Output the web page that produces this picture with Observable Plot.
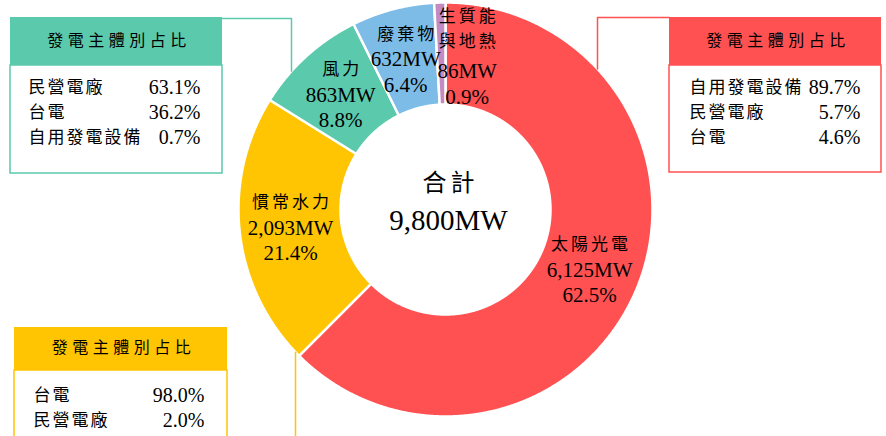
<!DOCTYPE html>
<html><head><meta charset="utf-8">
<script src="https://cdn.jsdelivr.net/npm/d3@7"></script>
<script src="https://cdn.jsdelivr.net/npm/@observablehq/plot@0.6"></script>
<style>
html,body{margin:0;padding:0;background:#fff;overflow:hidden;}
g[aria-description="hdr"] text{letter-spacing:4.5px}
g[aria-description="rowlabel"] text{letter-spacing:2px}
g[aria-description="slicename"] text{letter-spacing:3px}
g[aria-description="total"] text{letter-spacing:4px}
</style></head><body><div id="chart"></div><script>
// ---- data ----
const categories = ["太陽光電","慣常水力","風力","廢棄物","生質能與地熱"];
const categoryLines = [["太陽光電"],["慣常水力"],["風力"],["廢棄物"],["生質能","與地熱"]];
const capacityMW = [6125,2093,863,632,86];
const capacityLabels = ["6,125MW","2,093MW","863MW","632MW","86MW"];
const sharePct = [62.5,21.4,8.8,6.4,0.9];
const totalLines = ["合計","9,800MW"];
const boxTitle = "發電主體別占比";
const solarOwners = ["自用發電設備","民營電廠","台電"];
const solarOwnerPct = [89.7,5.7,4.6];
const windOwners = ["民營電廠","台電","自用發電設備"];
const windOwnerPct = [63.1,36.2,0.7];
const hydroOwners = ["台電","民營電廠"];
const hydroOwnerPct = [98.0,2.0];

// ---- styles / layout ----
const W = 886, H = 436;
const sliceColors = ["#FF5152","#FFC502","#5BC9AC","#7DBCE6","#C48AC2"];
const C = {x:445, y:209, R:207, r:105};
const labelDx = [0,0,0,0,26];
const SERIF = "Liberation Serif, Noto Sans CJK TC, serif";
const CJK = "Noto Sans CJK TC, sans-serif";
const boxes = [
  {cat:"風力", owners:windOwners, pct:windOwnerPct, x1:10, x2:222, y1:17, yh:65, y2:173, rowX:28, valX:200, row0:87,
   path:[[222,18],[291,18],[291,"top"]]},
  {cat:"太陽光電", owners:solarOwners, pct:solarOwnerPct, x1:669, x2:881, y1:17, yh:65, y2:172, rowX:689, valX:860, row0:87,
   path:[[669,17],[597,17],[597,"top"]]},
  {cat:"慣常水力", owners:hydroOwners, pct:hydroOwnerPct, x1:14, x2:227, y1:327, yh:370, y2:440, rowX:33, valX:204, row0:395,
   path:[[295,"bottom"],[295,440]]}
];

// ---- slices from data ----
const pie = d3.pie().sort(null).value(d => d)(capacityMW);
const polys = [];
pie.forEach((p, i) => {
  const a0 = p.startAngle, a1 = p.endAngle;
  const n = Math.max(6, Math.ceil((a1 - a0) / 0.005));
  for (let k = 0; k <= n; k++) {
    const a = a0 + (a1 - a0) * k / n;
    polys.push({cat:categories[i], x:C.x + C.R*Math.sin(a), y:C.y - C.R*Math.cos(a)});
  }
  for (let k = n; k >= 0; k--) {
    const a = a0 + (a1 - a0) * k / n;
    polys.push({cat:categories[i], x:C.x + C.r*Math.sin(a), y:C.y - C.r*Math.cos(a)});
  }
});

const sliceText = [];
pie.forEach((p, i) => {
  const a = (p.startAngle + p.endAngle)/2, rm = (C.R + C.r)/2;
  const cx = C.x + rm*Math.sin(a) + labelDx[i], cy = C.y - rm*Math.cos(a);
  const names = categoryLines[i];
  const lines = [...names.map(t => ({t, kind:"name"})),
    {t:capacityLabels[i], kind:"num"}, {t:sharePct[i].toFixed(1) + "%", kind:"num"}];
  const L = lines.length, n = names.length;
  lines.forEach((l, j) => sliceText.push({
    x:cx, y:cy + (j - (L-1)/2)*25.5 + 1 + (j >= n ? (n-1)*4 : 0), text:l.t, kind:l.kind}));
});

// connectors
const connPts = [];
boxes.forEach(b => b.path.forEach(([x, y]) => {
  let yy = y;
  const d = Math.sqrt(Math.max(0, C.R*C.R - (x - C.x)**2));
  if (y === "top") yy = C.y - d;
  if (y === "bottom") yy = C.y + d;
  connPts.push({cat:b.cat, x, y:yy});
}));

const rows = [];
boxes.forEach(b => b.owners.forEach((o, j) => rows.push({
  label:o, value:b.pct[j].toFixed(1) + "%", lx:b.rowX, vx:b.valX, y:b.row0 + j*25})));

const plot = Plot.plot({
  width:W, height:H, margin:0,
  x:{domain:[0,W], range:[0,W], axis:null},
  y:{domain:[0,H], range:[0,H], axis:null},
  color:{domain:categories, range:sliceColors},
  style:{background:"transparent", overflow:"visible"},
  marks:[
    Plot.line(polys, {x:"x", y:"y", z:"cat", fill:"cat", stroke:"white", strokeWidth:2.5, curve:"linear-closed"}),
    Plot.line(connPts, {x:"x", y:"y", z:"cat", stroke:"cat", strokeWidth:1.5}),
    Plot.rect(boxes, {x1:"x1", x2:"x2", y1:"yh", y2:"y2", fill:"white", stroke:"cat", strokeWidth:1.5}),
    Plot.rect(boxes, {x1:"x1", x2:"x2", y1:"y1", y2:"yh", fill:"cat"}),
    Plot.text(boxes, {x:d => (d.x1 + d.x2)/2 + 2.5, y:d => (d.y1 + d.yh)/2 - 1, text:() => boxTitle,
      fontSize:16, fontFamily:CJK, fill:"#000", ariaDescription:"hdr"}),
    Plot.text(rows, {x:"lx", y:"y", text:"label", textAnchor:"start", fontSize:17, fontFamily:CJK, fill:"#000", ariaDescription:"rowlabel"}),
    Plot.text(rows, {x:"vx", y:"y", text:"value", textAnchor:"end", fontSize:20, fontFamily:SERIF, fill:"#000"}),
    Plot.text(sliceText.filter(d => d.kind === "name"), {x:"x", y:"y", text:"text", dx:1.5, fontSize:17, fontFamily:CJK, fill:"#000", ariaDescription:"slicename"}),
    Plot.text(sliceText.filter(d => d.kind === "num"), {x:"x", y:"y", text:"text", fontSize:21, fontFamily:SERIF, fill:"#000"}),
    Plot.text([totalLines[0]], {x:() => C.x, y:() => C.y - 26, dx:5, text:d => d, fontSize:24, fontFamily:CJK, fill:"#000", ariaDescription:"total"}),
    Plot.text([totalLines[1]], {x:() => C.x, y:() => C.y + 11, dx:3, text:d => d, fontSize:29, fontFamily:SERIF, fill:"#000"})
  ]
});
document.getElementById("chart").appendChild(plot);
</script></body></html>
